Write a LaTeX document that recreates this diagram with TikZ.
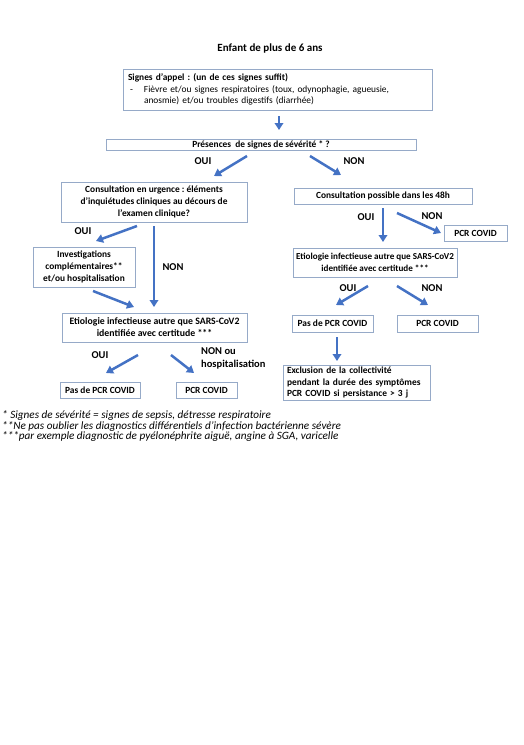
\documentclass[tikz,border=0pt]{standalone}
\usepackage{fontspec}
\setmainfont{Carlito}
\usepackage{tikz}
\usetikzlibrary{arrows.meta}
\definecolor{arrowblue}{RGB}{68, 114, 196}
\definecolor{boxline}{RGB}{150, 170, 200}
\frenchspacing

\begin{document}
\begin{tikzpicture}[
  x=1pt, y=-1pt,
  box/.style={draw=boxline,line width=0.8pt,fill=white,align=center,inner sep=0pt,
              font=\fontsize{9.4}{11.8}\selectfont\bfseries},
  answer/.style={font=\fontsize{10.5}{12.5}\selectfont\bfseries,inner sep=0pt},
  note/.style={font=\fontsize{11.2}{10.5}\selectfont\itshape,anchor=north west,align=left,inner sep=0pt},
  arrow/.style={draw=arrowblue,line width=2.5pt,-{Triangle[length=7pt,width=8.5pt]}}
]
  \useasboundingbox (0,0) rectangle (524,745);

  % Title and first question
  \node[font=\fontsize{11}{13}\selectfont\bfseries] (title) at (270,49) {Enfant de plus de 6 ans};
  \node[box,minimum width=309,minimum height=41,align=left,text width=299,inner xsep=5pt] (appel) at (277.5,89.5)
    {Signes d’appel : (un de ces signes suffit)\\
     {\mdseries\makebox[16pt][l]{\hspace{2pt}-}Fièvre et/ou signes respiratoires (toux, odynophagie, agueusie,}\\
     {\mdseries\hspace*{16pt}anosmie) et/ou troubles digestifs (diarrhée)}};
  \node[box,minimum width=310,minimum height=11] (sev) at (261,144.5)
    {Présences\ \ de signes de sévérité * ?};
  \node[answer] (ouiA) at (203,161) {OUI};
  \node[answer] (nonA) at (354,161) {NON};

  % Left branch (OUI)
  \node[box,minimum width=186,minimum height=40] (urg) at (154,202)
    {Consultation en urgence : éléments\\d’inquiétudes cliniques au décours de\\l’examen clinique?};
  \node[answer] (ouiB) at (83,231) {OUI};
  \node[answer] (nonB) at (173,267) {NON};
  \node[box,minimum width=102,minimum height=40] (invest) at (84,267)
    {Investigations\\complémentaires**\\et/ou hospitalisation};
  \node[box,minimum width=185,minimum height=29,font=\fontsize{9.8}{12}\selectfont\bfseries] (etioL) at (154.5,327.5)
    {Etiologie infectieuse autre que SARS-CoV2\\identifiée avec certitude ***};
  \node[answer] (ouiC) at (100,355) {OUI};
  \node[answer,align=left,anchor=west] (nonC) at (201,358.5) {NON ou\\hospitalisation};
  \node[box,minimum width=80,minimum height=16] (pasL) at (100,390) {Pas de PCR COVID};
  \node[box,minimum width=61,minimum height=16] (pcrL) at (206.5,390) {PCR COVID};

  % Right branch (NON)
  \node[box,minimum width=178,minimum height=16] (poss) at (383,196)
    {Consultation possible dans les 48h};
  \node[answer] (ouiD) at (366,217) {OUI};
  \node[answer] (nonD) at (432,216) {NON};
  \node[box,minimum width=63,minimum height=16] (pcrR) at (475.5,233) {PCR COVID};
  \node[box,minimum width=164,minimum height=29,font=\fontsize{9.1}{11.8}\selectfont\bfseries] (etioR) at (375,262.5)
    {Etiologie infectieuse autre que SARS-CoV2\\identifiée avec certitude ***};
  \node[answer] (ouiE) at (348,288) {OUI};
  \node[answer] (nonE) at (432,288) {NON};
  \node[box,minimum width=81,minimum height=17] (pasR) at (332.5,323.5) {Pas de PCR COVID};
  \node[box,minimum width=81,minimum height=17] (pcrR2) at (437.5,323.5) {PCR COVID};
  \node[box,minimum width=147,minimum height=35,align=left,text width=139,inner xsep=4pt] (excl) at (356.5,382.5)
    {Exclusion de la collectivité\\pendant la durée des symptômes\\PCR COVID si persistance > 3 j};

  % Arrow ends (the arrows float between the boxes)
  \coordinate (a1s) at (279,116);  \coordinate (a1e) at (279,130);
  \coordinate (a2s) at (247,156);  \coordinate (a2e) at (214,176);
  \coordinate (a3s) at (310,156);  \coordinate (a3e) at (341,175);
  \coordinate (a4s) at (137,226);  \coordinate (a4e) at (96,241);
  \coordinate (a5s) at (154,226);  \coordinate (a5e) at (154,307);
  \coordinate (a6s) at (93,291);   \coordinate (a6e) at (134,307);
  \coordinate (a7s) at (138,355);  \coordinate (a7e) at (106,373);
  \coordinate (a8s) at (171,355);  \coordinate (a8e) at (194,373);
  \coordinate (a9s) at (383,208);  \coordinate (a9e) at (383,242);
  \coordinate (a10s) at (397,213); \coordinate (a10e) at (441,233);
  \coordinate (a11s) at (368,286); \coordinate (a11e) at (336,305);
  \coordinate (a12s) at (397,286); \coordinate (a12e) at (428,305);
  \coordinate (a13s) at (337,337); \coordinate (a13e) at (337,361);
  \foreach \i in {1,...,13}
    \draw[arrow] (a\i s) -- (a\i e);

  % Footnotes
  \node[note] (notes) at (2,410.5)
    {* Signes de sévérité = signes de sepsis, détresse respiratoire\\
     **Ne pas oublier les diagnostics différentiels d’infection bactérienne sévère\\
     ***par exemple diagnostic de pyélonéphrite aiguë, angine à SGA, varicelle};
\end{tikzpicture}
\end{document}
